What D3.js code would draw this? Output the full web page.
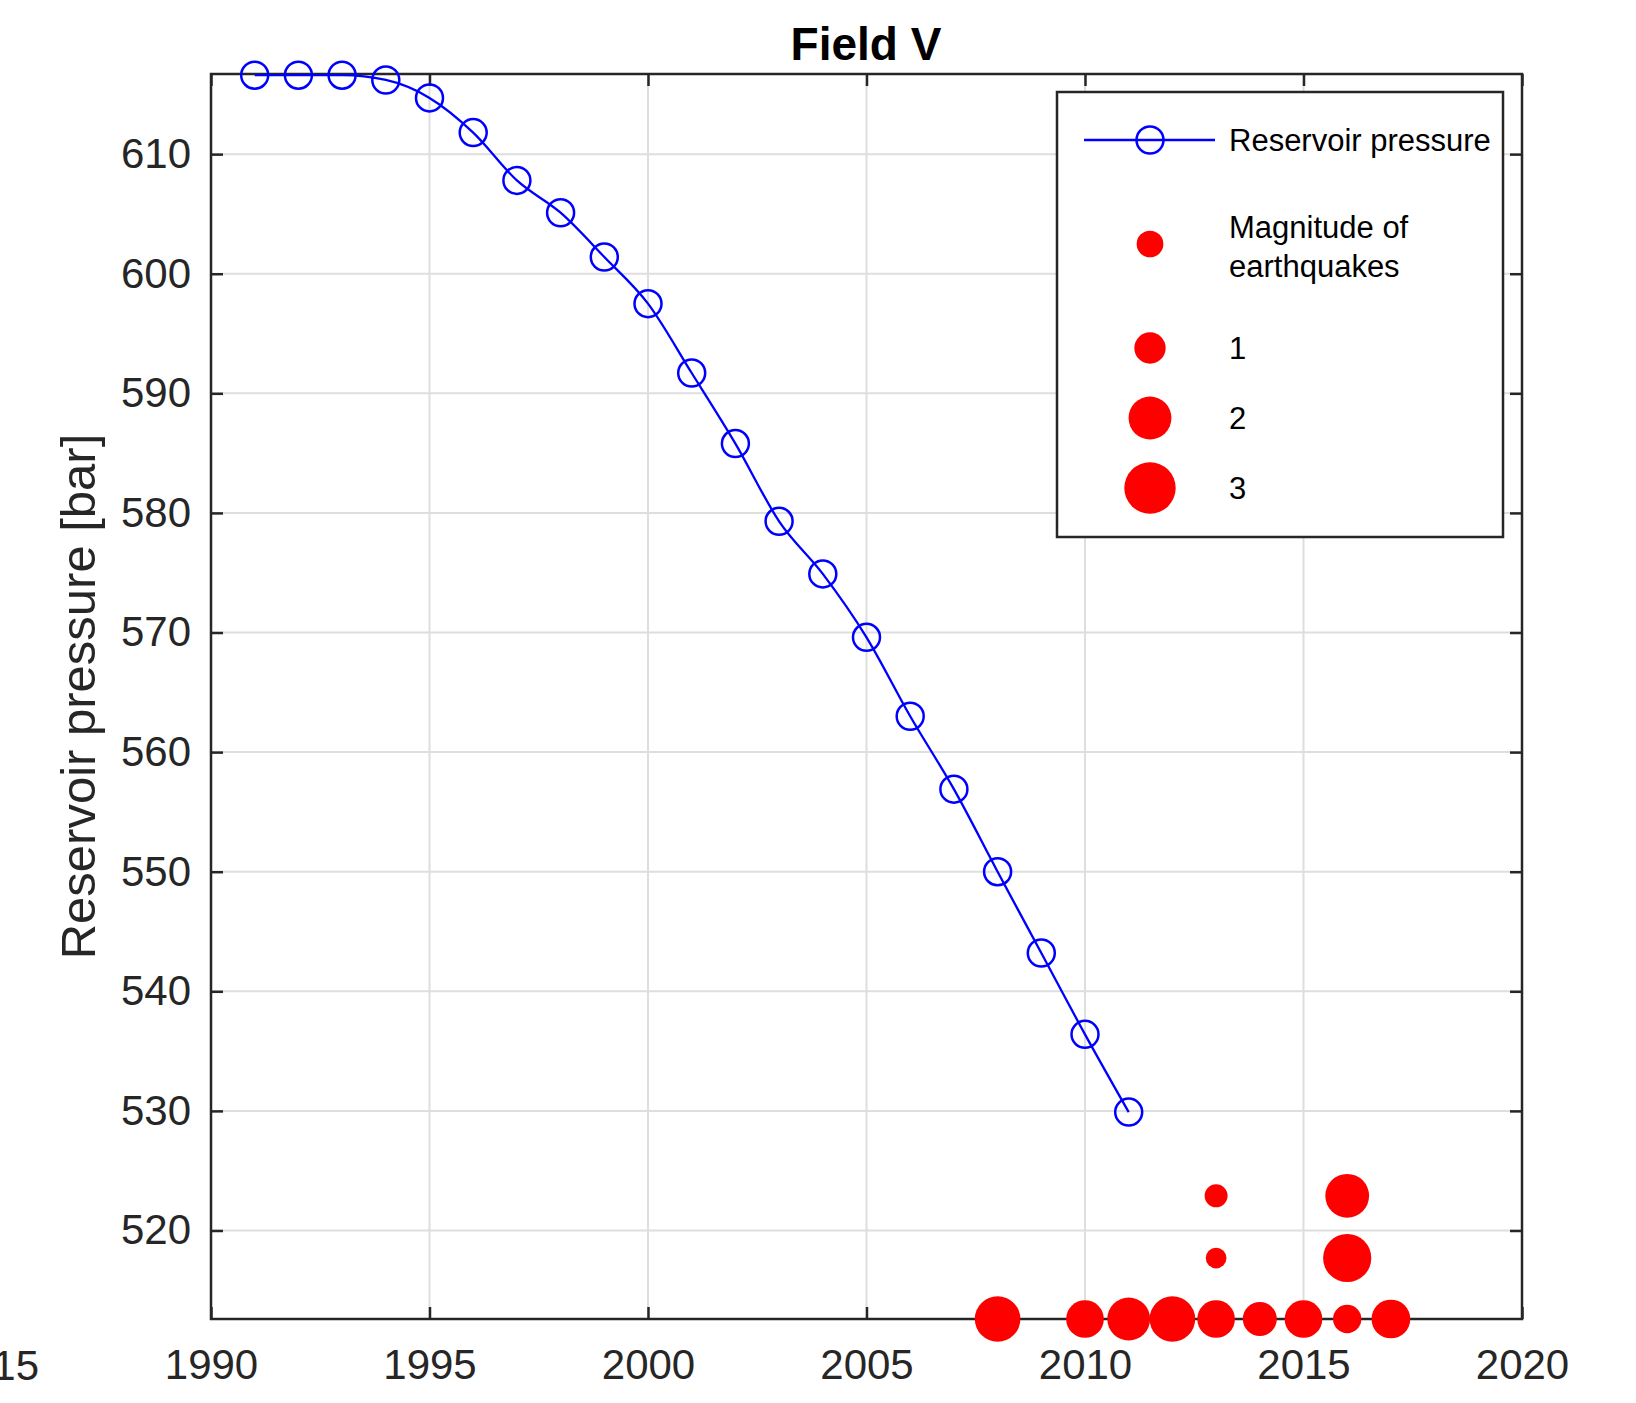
<!DOCTYPE html>
<html>
<head>
<meta charset="utf-8">
<script src="https://cdn.jsdelivr.net/npm/d3@7"></script>
<style>
  body { margin: 0; background: #fff; }
  svg { display: block; font-family: "Liberation Sans", Arial, sans-serif; }
</style>
</head>
<body>
<svg id="chart" width="1636" height="1403"></svg>
<script>
// reservoir pressure, one point per year
var pressureYears = [1991, 1992, 1993, 1994, 1995, 1996, 1997, 1998, 1999, 2000, 2001,
  2002, 2003, 2004, 2005, 2006, 2007, 2008, 2009, 2010, 2011];
var pressureValues = [616.6, 616.6, 616.6, 616.2, 614.7, 611.8, 607.8, 605.1, 601.4, 597.5, 591.7,
  585.8, 579.3, 574.9, 569.6, 563.0, 556.9, 550.0, 543.2, 536.4, 529.9];

// earthquakes: year, plotted level (stacked) and magnitude
var quakeYears = [2008, 2010, 2011, 2012, 2013, 2014, 2015, 2016, 2017, 2013, 2013, 2016, 2016];
var quakeLevels = [512.6, 512.6, 512.6, 512.6, 512.6, 512.6, 512.6, 512.6, 512.6, 517.7, 522.9, 517.7, 522.9];
var quakeMags = [2.3, 1.5, 2.0, 2.3, 1.5, 1.2, 1.5, 0.8, 1.6, 0.4, 0.5, 2.6, 2.1];

var xTicks = [1990, 1995, 2000, 2005, 2010, 2015, 2020];
var yTicks = [520, 530, 540, 550, 560, 570, 580, 590, 600, 610];
var legendMags = [1, 2, 3];
var legendHeaderMag = 0.7;

var plotLeft = 211, plotRight = 1522, plotTop = 74, plotBottom = 1319;
var axisColor = '#262626';

var svg = d3.select('#chart');
var x = d3.scaleLinear().domain([1990, 2020]).range([plotLeft, plotRight]);
var y = d3.scaleLinear().domain([512.6, 616.7]).range([plotBottom, plotTop]);
var r = d3.scalePow().exponent(0.45).domain([0, 3]).range([0, 25.7]);

// grid
var grid = svg.append('g');
grid.selectAll('line.gx').data(xTicks.slice(1, -1)).enter().append('line')
  .attr('x1', function(d) { return x(d); }).attr('x2', function(d) { return x(d); })
  .attr('y1', plotTop).attr('y2', plotBottom)
  .attr('stroke', '#dedede').attr('stroke-width', 2);
grid.selectAll('line.gy').data(yTicks).enter().append('line')
  .attr('y1', function(d) { return y(d); }).attr('y2', function(d) { return y(d); })
  .attr('x1', plotLeft).attr('x2', plotRight)
  .attr('stroke', '#dedede').attr('stroke-width', 2);

// axes (inner ticks, mirrored on top and right)
var tickLen = 12;
var xAxisB = d3.axisBottom(x).tickValues(xTicks).tickFormat(d3.format('d')).tickSizeInner(-tickLen).tickSizeOuter(0).tickPadding(30);
var xAxisT = d3.axisTop(x).tickValues(xTicks).tickFormat('').tickSizeInner(-tickLen).tickSizeOuter(0);
var yAxisL = d3.axisLeft(y).tickValues(yTicks).tickSizeInner(-tickLen).tickSizeOuter(0).tickPadding(20);
var yAxisR = d3.axisRight(y).tickValues(yTicks).tickFormat('').tickSizeInner(-tickLen).tickSizeOuter(0);

function styleAxis(g) {
  g.select('.domain').remove();
  g.selectAll('.tick line').attr('stroke', axisColor).attr('stroke-width', 2.5);
  g.selectAll('.tick text').attr('fill', axisColor).attr('font-size', 42)
    .attr('font-family', '"Liberation Sans", Arial, sans-serif');
}
svg.append('g').attr('transform', 'translate(0,' + plotBottom + ')').call(xAxisB).call(styleAxis);
svg.append('g').attr('transform', 'translate(0,' + plotTop + ')').call(xAxisT).call(styleAxis);
svg.append('g').attr('transform', 'translate(' + plotLeft + ',0)').call(yAxisL).call(styleAxis);
svg.append('g').attr('transform', 'translate(' + plotRight + ',0)').call(yAxisR).call(styleAxis);

svg.append('rect')
  .attr('x', plotLeft).attr('y', plotTop).attr('width', plotRight - plotLeft).attr('height', plotBottom - plotTop)
  .attr('fill', 'none').attr('stroke', axisColor).attr('stroke-width', 2.5);

// stray label of the neighbouring panel
svg.append('text').attr('x', 39).attr('y', 1380).attr('text-anchor', 'end')
  .attr('font-size', 42).attr('fill', axisColor).text('2015');

// pressure line
var pts = pressureYears.map(function(d, i) { return [d, pressureValues[i]]; });
var line = d3.line()
  .x(function(d) { return x(d[0]); })
  .y(function(d) { return y(d[1]); })
  .curve(d3.curveMonotoneX);
svg.append('path').datum(pts).attr('d', line)
  .attr('fill', 'none').attr('stroke', '#0000ff').attr('stroke-width', 2.3);
svg.selectAll('circle.p').data(pts).enter().append('circle')
  .attr('cx', function(d) { return x(d[0]); })
  .attr('cy', function(d) { return y(d[1]); })
  .attr('r', 13.5)
  .attr('fill', 'none').attr('stroke', '#0000ff').attr('stroke-width', 2.5);

// earthquakes
svg.selectAll('circle.q').data(quakeYears).enter().append('circle')
  .attr('cx', function(d) { return x(d); })
  .attr('cy', function(d, i) { return y(quakeLevels[i]); })
  .attr('r', function(d, i) { return r(quakeMags[i]); })
  .attr('fill', '#ff0000');

// title
svg.append('text').attr('x', 866).attr('y', 60)
  .attr('text-anchor', 'middle').attr('font-size', 46).attr('font-weight', 'bold')
  .attr('fill', '#000').text('Field V');

// y label
svg.append('text')
  .attr('transform', 'translate(95,' + ((plotTop + plotBottom) / 2) + ') rotate(-90)')
  .attr('text-anchor', 'middle').attr('font-size', 49).attr('fill', axisColor)
  .text('Reservoir pressure [bar]');

// legend
var lg = svg.append('g');
lg.append('rect').attr('x', 1057).attr('y', 92).attr('width', 446).attr('height', 445)
  .attr('fill', '#fff').attr('stroke', axisColor).attr('stroke-width', 2.5);
var mx = 1150, tx = 1229, fs = 31;
lg.append('line').attr('x1', 1084).attr('x2', 1215).attr('y1', 140).attr('y2', 140)
  .attr('stroke', '#0000ff').attr('stroke-width', 2.5);
lg.append('circle').attr('cx', mx).attr('cy', 140).attr('r', 13.5)
  .attr('fill', 'none').attr('stroke', '#0000ff').attr('stroke-width', 2.5);
lg.append('text').attr('x', tx).attr('y', 140).attr('dy', '0.35em').attr('font-size', fs)
  .text('Reservoir pressure');
lg.append('circle').attr('cx', mx).attr('cy', 244).attr('r', r(legendHeaderMag)).attr('fill', '#ff0000');
lg.append('text').attr('x', tx).attr('y', 227).attr('dy', '0.35em').attr('font-size', fs).text('Magnitude of');
lg.append('text').attr('x', tx).attr('y', 266).attr('dy', '0.35em').attr('font-size', fs).text('earthquakes');
var legY = d3.scaleLinear().domain([1, 3]).range([348, 488]);
lg.selectAll('circle.m').data(legendMags).enter().append('circle')
  .attr('cx', mx).attr('cy', function(d) { return legY(d); })
  .attr('r', function(d) { return r(d); }).attr('fill', '#ff0000');
lg.selectAll('text.m').data(legendMags).enter().append('text')
  .attr('x', tx).attr('y', function(d) { return legY(d); }).attr('dy', '0.35em')
  .attr('font-size', fs).text(function(d) { return d; });
</script>
</body>
</html>
